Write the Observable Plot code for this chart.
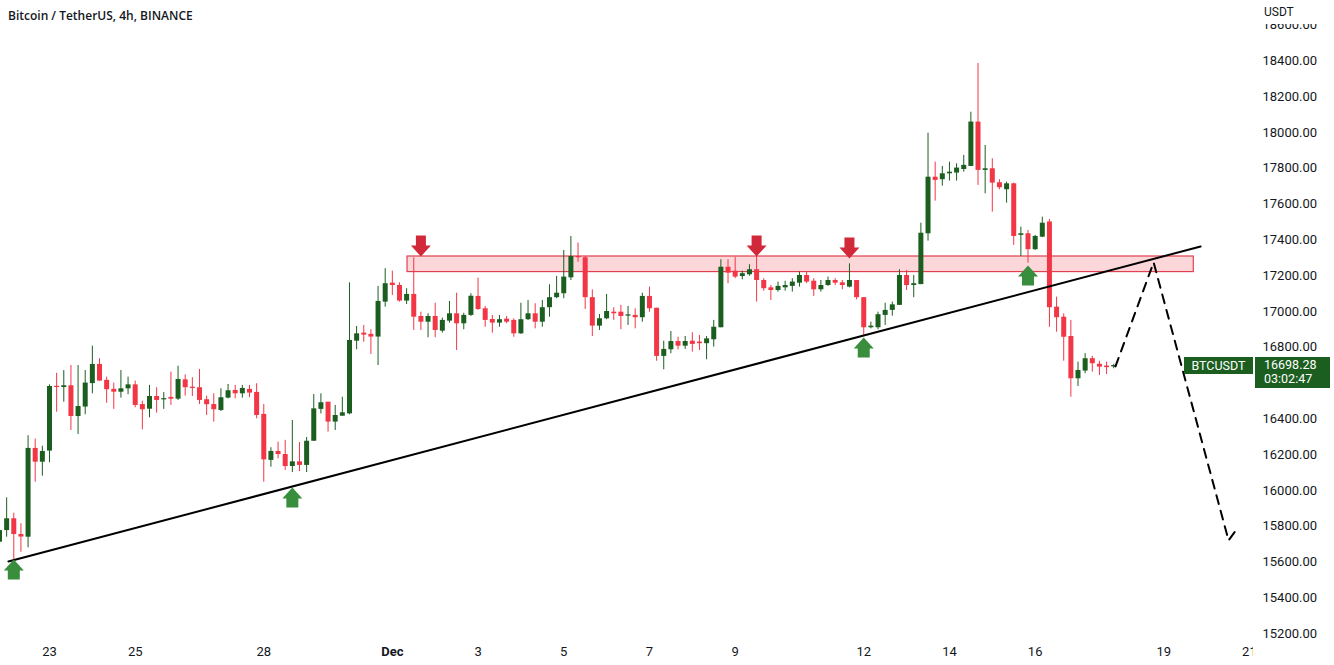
<!DOCTYPE html>
<html><head><meta charset="utf-8">
<script src="https://cdn.jsdelivr.net/npm/d3@7"></script>
<script src="https://cdn.jsdelivr.net/npm/@observablehq/plot@0.6"></script>
<style>
body{margin:0;background:#fff;}
#wrap{position:relative;width:1334px;height:665px;overflow:hidden;background:#fff;}
.ov{position:absolute;font-family:Roboto,"Open Sans",sans-serif;}
</style></head><body><div id="wrap"></div>
<script>
// ---- data ----
const title = "Bitcoin / TetherUS, 4h, BINANCE";
const currency = "USDT";
const symbolName = "BTCUSDT";
const countdown = "03:02:47";
const firstCandle = "2022-11-21T20:00:00Z";
const candleHours = 4;
const opens = [15711,15776,15842,15754,15739,16235,16158,16220,16581,16575,16585,16413,16466,16597,16704,16615,16565,16549,16568,16590,
16480,16454,16525,16506,16520,16510,16618,16575,16574,16507,16480,16447,16516,16559,16540,16565,16548,16425,16168,16218,
16201,16134,16160,16140,16275,16453,16493,16382,16415,16428,16834,16879,16872,16857,17052,17158,17145,17058,17095,16972,
16940,16972,16890,16946,16987,16931,16978,17084,17015,16955,16935,16957,16950,16875,16954,16987,16940,17021,17077,17099,
17188,17307,17300,17077,16918,16959,16996,16996,16974,16978,16965,17084,17018,16749,16786,16832,16806,16834,16829,16820,
16842,16909,17247,17225,17195,17205,17233,17173,17132,17117,17132,17140,17158,17201,17169,17121,17145,17173,17160,17136,
17173,17077,16909,16909,16978,17006,17034,17201,17145,17150,17434,17750,17736,17769,17773,17793,17810,18058,17788,17797,
17719,17680,17713,17425,17434,17345,17415,17500,17024,16968,16860,16624,16667,16736,16705,16695,16690];
const highs = [15800,15959,15873,15814,16306,16287,16247,16590,16655,16670,16698,16698,16670,16806,16736,16633,16600,16670,16633,16611,
16499,16587,16574,16547,16661,16694,16646,16630,16676,16527,16540,16568,16592,16587,16587,16587,16596,16480,16239,16270,
16280,16391,16268,16296,16536,16540,16493,16475,16521,17160,16916,16922,16898,17140,17239,17225,17160,17127,17300,16996,
16987,17046,16963,17056,17102,16990,17099,17186,17028,16978,16978,16972,16959,17046,17061,17043,17061,17149,17196,17341,
17419,17382,17307,17121,16983,17095,17021,17034,17028,17015,17102,17136,17018,16834,16888,16856,16860,16881,16866,16860,
16950,17289,17289,17303,17225,17261,17307,17183,17145,17164,17169,17183,17220,17220,17183,17173,17192,17183,17173,17266,
17173,17077,16940,16996,17046,17052,17233,17229,17201,17493,17996,17834,17810,17834,17825,17872,18113,18385,17927,17853,
17736,17722,17717,17471,17453,17425,17527,17514,17080,16987,16950,16717,16764,16749,16722,16717,16705];
const lows = [15690,15739,15609,15655,15680,16046,16080,16155,16437,16493,16335,16313,16423,16540,16611,16487,16453,16516,16535,16462,
16339,16406,16432,16453,16475,16503,16527,16525,16480,16419,16382,16441,16512,16512,16516,16518,16400,16046,16130,16177,
16112,16100,16105,16100,16275,16428,16326,16335,16415,16423,16786,16828,16760,16698,17024,17089,17052,17039,16894,16894,
16853,16853,16879,16935,16782,16898,16972,17006,16912,16879,16912,16931,16856,16872,16950,16903,16912,16968,17071,17071,
17173,17275,17011,16860,16894,16954,16950,16898,16922,16903,16940,16996,16722,16674,16764,16786,16788,16773,16782,16730,
16801,16909,17155,17183,17177,17197,17052,17113,17061,17108,17113,17108,17136,17155,17084,17108,17140,17145,17121,17132,
17065,16866,16903,16898,16922,16974,17034,17117,17077,17150,17393,17616,17700,17728,17728,17778,17810,17704,17657,17555,
17680,17605,17369,17307,17270,17341,17412,16912,16884,16722,16521,16581,16652,16661,16642,16648,16680];
const closes = [15776,15842,15754,15740,16235,16158,16218,16581,16575,16585,16413,16469,16600,16704,16611,16563,16549,16568,16590,16475,
16451,16525,16503,16512,16510,16620,16574,16570,16503,16479,16451,16518,16557,16540,16570,16544,16419,16171,16218,16201,
16134,16160,16140,16275,16456,16490,16382,16419,16434,16838,16875,16868,16857,17056,17155,17145,17058,17095,16968,16940,
16972,16894,16950,16987,16931,16978,17085,17011,16950,16935,16954,16940,16875,16954,16987,16940,17021,17077,17102,17192,
17307,17300,17077,16918,16959,17000,16987,16972,16978,16965,17084,17015,16749,16788,16832,16806,16832,16816,16820,16847,
16912,17247,17214,17192,17211,17233,17173,17127,17117,17140,17145,17164,17201,17164,17121,17145,17173,17158,17145,17173,
17077,16909,16918,16982,17006,17037,17201,17145,17155,17437,17750,17732,17769,17778,17801,17816,18058,17788,17797,17717,
17691,17713,17419,17434,17345,17419,17493,17021,16965,16856,16624,16670,16736,16708,16689,16686,16698.28];
// 16600 is hidden behind the price tag in the reference
const yTicks = [15200,15400,15600,15800,16000,16200,16400,16800,17000,17200,17400,17600,17800,18000,18200,18400,18600];
const xTickDates = ["2022-11-23","2022-11-25","2022-11-28","2022-12-01","2022-12-03","2022-12-05","2022-12-07","2022-12-09","2022-12-12","2022-12-14","2022-12-16","2022-12-19","2022-12-21"];
const xTickLabels = ["23","25","28","Dec","3","5","7","9","12","14","16","19","21"];
// resistance zone
const zoneTimes = ["2022-12-01T08:30Z","2022-12-19T16:50Z"];
const zonePrices = [17220,17307];
// trend line
const trendTimes = ["2022-11-22T01:00Z","2022-12-19T20:40Z"];
const trendPrices = [15603,17363];
// projected path
const pathTimes = ["2022-12-17T21:00Z","2022-12-18T18:20Z","2022-12-20T12:20Z","2022-12-20T17:10Z"];
const pathPrices = [16693,17274,15721,15788];
// arrows (tip positions)
const upArrowTimes = ["2022-11-22T04:00Z","2022-11-28T16:00Z","2022-12-12T00:00Z","2022-12-15T20:00Z"];
const upArrowPrices = [15615,16017,16855,17257];
const downArrowTimes = ["2022-12-01T16:00Z","2022-12-09T12:00Z","2022-12-11T16:00Z"];
const downArrowPrices = [17307,17307,17296];

// ---- build ----
const t0 = new Date(firstCandle).getTime();
const H = 3600e3;
const candles = opens.map((o,i)=>({t:new Date(t0+i*candleHours*H),o,h:highs[i],l:lows[i],c:closes[i]}));
const GREEN="#1b5e20", RED="#f23645";
const col = d => d.c >= d.o ? GREEN : RED;
const arrowUp = {draw(ctx){ctx.moveTo(0,0);ctx.lineTo(10,11);ctx.lineTo(6,11);ctx.lineTo(6,20);ctx.lineTo(-6,20);ctx.lineTo(-6,11);ctx.lineTo(-10,11);ctx.closePath();}};
const arrowDown = {draw(ctx){ctx.moveTo(0,0);ctx.lineTo(10,-11);ctx.lineTo(5,-11);ctx.lineTo(5,-21);ctx.lineTo(-5,-21);ctx.lineTo(-5,-11);ctx.lineTo(-10,-11);ctx.closePath();}};
const pts = (ts,ps)=>ts.map((t,i)=>({t:new Date(t),p:ps[i]}));

const chart = Plot.plot({
  width:1334, height:665, marginLeft:0, marginRight:79, marginTop:0, marginBottom:25,
  style:{fontFamily:"Roboto, sans-serif", fontSize:"13px", color:"#131722", background:"#fff"},
  x:{type:"utc", domain:[new Date(t0+0.56*H), new Date(t0+703.4*H)]},
  y:{domain:[15162,18737]},
  marks:[
    Plot.rect([0],{x1:()=>new Date(zoneTimes[0]),x2:()=>new Date(zoneTimes[1]),y1:()=>zonePrices[0],y2:()=>zonePrices[1],fill:"#f23645",fillOpacity:0.2,stroke:"#e0404f",strokeWidth:1.2}),
    Plot.ruleX(candles,{x:"t",y1:"l",y2:"h",stroke:col,strokeWidth:1,clip:true}),
    Plot.ruleX(candles,{x:"t",y1:d=>Math.min(d.o,d.c),y2:d=>Math.max(Math.max(d.o,d.c),Math.min(d.o,d.c)+7),stroke:col,strokeWidth:5,clip:true}),
    Plot.line(pts(trendTimes,trendPrices),{x:"t",y:"p",stroke:"#000",strokeWidth:2}),
    Plot.line(pts(pathTimes,pathPrices),{x:"t",y:"p",stroke:"#000",strokeWidth:2,strokeDasharray:"9,7"}),
    Plot.dot(pts(upArrowTimes,upArrowPrices),{x:"t",y:"p",symbol:arrowUp,r:10,fill:"#388e3c"}),
    Plot.dot(pts(downArrowTimes,downArrowPrices),{x:"t",y:"p",symbol:arrowDown,r:10,fill:"#d1293a"}),
    Plot.axisY({anchor:"right",ticks:yTicks,tickFormat:d=>d.toFixed(2),tickSize:0,tickPadding:7,label:null,fill:"#131722"}),
    Plot.axisX({ticks:xTickDates.filter((d,i)=>xTickLabels[i]!=="Dec").map(d=>new Date(d+"T00:00Z")),tickFormat:d=>xTickLabels[xTickDates.indexOf(d.toISOString().slice(0,10))],tickSize:0,tickPadding:6,label:null,fill:"#131722"}),
    Plot.axisX({ticks:xTickDates.filter((d,i)=>xTickLabels[i]==="Dec").map(d=>new Date(d+"T00:00Z")),tickFormat:()=>"Dec",tickSize:0,tickPadding:6,label:null,fill:"#131722",fontWeight:"bold"})
  ]
});
const wrap = document.getElementById("wrap");
wrap.appendChild(chart);
const ys = chart.scale("y");
const lastY = ys.apply(closes[closes.length-1]);
function ov(html, css){const d=document.createElement("div");d.className="ov";d.style.cssText=css;d.innerHTML=html;wrap.appendChild(d);return d;}
// clip overlays
ov("", "left:1253px;top:639px;width:81px;height:26px;background:#fff;");
ov("", "left:1256px;top:0;width:78px;height:24px;background:#fff;");
ov(currency, "left:1264px;top:6px;font-size:12px;line-height:12px;color:#131722;");
ov(title, "left:8px;top:7px;font-family:'Open Sans',sans-serif;font-weight:600;font-size:12px;color:#131722;");
// price labels
ov(symbolName, `left:1184px;top:${lastY-8}px;width:69px;height:17px;background:${GREEN};color:#fff;font-size:12.5px;line-height:17px;text-align:center;`);
ov(closes[closes.length-1].toFixed(2)+"<br>"+countdown, `left:1255px;top:${lastY-8}px;width:75px;height:31px;background:${GREEN};color:#fff;font-size:12.5px;line-height:14px;padding:1px 0 0 9px;box-sizing:border-box;`);
</script></body></html>
